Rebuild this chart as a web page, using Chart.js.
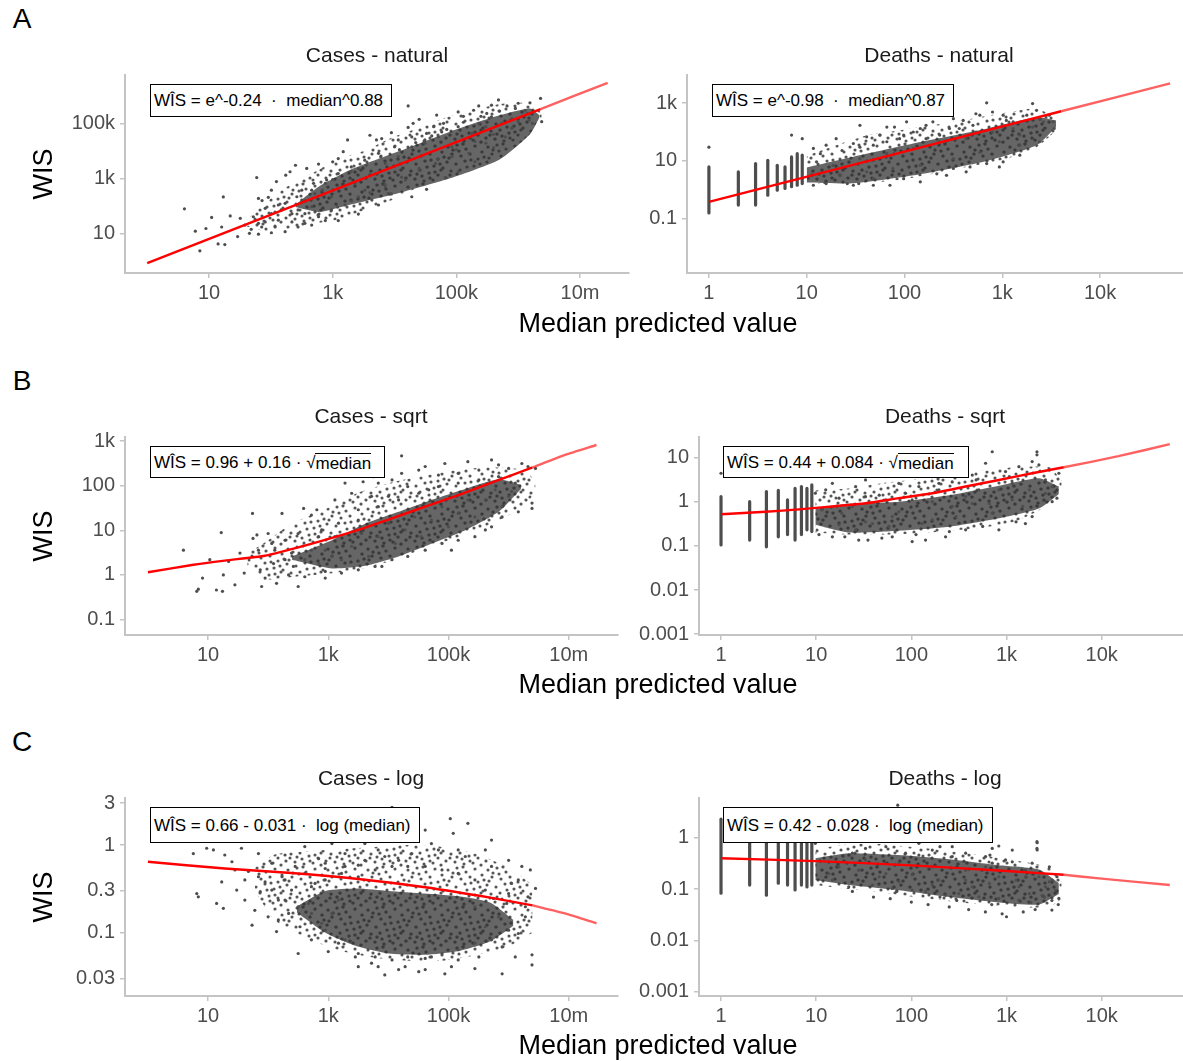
<!DOCTYPE html>
<html>
<head>
<meta charset="utf-8">
<script src="https://cdn.jsdelivr.net/npm/chart.js"></script>
<style>
  html, body { margin: 0; padding: 0; background: #fff; }
  body { width: 1183px; height: 1061px; position: relative; overflow: hidden;
         font-family: "Liberation Sans", Arial, Helvetica, sans-serif; }
  .txt { position: absolute; transform: translate(-50%, -50%); white-space: nowrap; line-height: 1; color: #000; z-index: 2; }
  .tag { font-size: 28px; }
  .ttl { font-size: 21px; color: #1a1a1a; }
  .xlab { font-size: 27px; }
  .ylab { font-size: 27px; transform: translate(-50%, -50%) rotate(-90deg); }
  .box { position: absolute; z-index: 3; background: #fff; border: 1px solid #000; box-sizing: border-box;
         font-size: 17px; line-height: 1; display: flex; align-items: center; padding-left: 3px; white-space: nowrap; }
  .rt { border-top: 1px solid #000; padding-top: 1px; }
</style>
</head>
<body>

<div class="txt tag" style="left:22px;top:19px">A</div>
<div class="txt tag" style="left:22px;top:381px">B</div>
<div class="txt tag" style="left:22px;top:742px">C</div>

<div class="txt ttl" style="left:377px;top:54px">Cases - natural</div>
<div class="txt ttl" style="left:939px;top:54px">Deaths - natural</div>
<div class="txt ttl" style="left:371px;top:415px">Cases - sqrt</div>
<div class="txt ttl" style="left:945px;top:415px">Deaths - sqrt</div>
<div class="txt ttl" style="left:371px;top:777px">Cases - log</div>
<div class="txt ttl" style="left:945px;top:777px">Deaths - log</div>

<div class="txt ylab" style="left:43px;top:174px">WIS</div>
<div class="txt ylab" style="left:43px;top:536px">WIS</div>
<div class="txt ylab" style="left:43px;top:897px">WIS</div>

<div class="txt xlab" style="left:658px;top:323px">Median predicted value</div>
<div class="txt xlab" style="left:658px;top:684px">Median predicted value</div>
<div class="txt xlab" style="left:658px;top:1045px">Median predicted value</div>

<div class="box" style="left:150px;top:84px;width:242px;height:33px">WÎS = e^-0.24 &nbsp;·&nbsp; median^0.88</div>
<div class="box" style="left:712px;top:84px;width:242px;height:33px">WÎS = e^-0.98 &nbsp;·&nbsp; median^0.87</div>
<div class="box" style="left:150px;top:446px;width:235px;height:32px">WÎS = 0.96 + 0.16 ·&nbsp;√<span class="rt">median</span></div>
<div class="box" style="left:723px;top:446px;width:246px;height:32px">WÎS = 0.44 + 0.084 ·&nbsp;√<span class="rt">median</span></div>
<div class="box" style="left:150px;top:807px;width:270px;height:36px">WÎS = 0.66 - 0.031 · &nbsp;log (median)</div>
<div class="box" style="left:723px;top:807px;width:270px;height:36px">WÎS = 0.42 - 0.028 · &nbsp;log (median)</div>

<script>
// tick values / labels
const casesXTicks = [10, 1e3, 1e5, 1e7];
const casesXLabels = ['10', '1k', '100k', '10m'];
const deathsXTicks = [1, 10, 100, 1e3, 1e4];
const deathsXLabels = ['1', '10', '100', '1k', '10k'];

// ---------- Cases - natural
const casesNatYTicks = [10, 1e3, 1e5];
const casesNatYLabels = ['10', '1k', '100k'];
// outer envelope of the point cloud and its dense core
const casesNatCloudX  = [40, 80, 170, 457, 1230, 3300, 8900, 2.5e4, 6.6e4, 1.8e5, 4.8e5, 1.3e6, 2.4e6];
const casesNatCloudHi = [30, 120, 450, 1500, 5000, 1e4, 3e4, 7e4, 1.6e5, 3e5, 5e5, 5.5e5, 2.5e5];
const casesNatCloudLo = [18, 12, 14, 22, 32, 70, 160, 500, 1600, 5000, 2e4, 7e4, 1.5e5];
const casesNatCoreX  = [250, 600, 1900, 1.23e4, 7.9e4, 5.1e5, 1.55e6, 2.2e6];
const casesNatCoreHi = [110, 500, 2000, 1e4, 5e4, 2e5, 3.5e5, 2e5];
const casesNatCoreLo = [90, 60, 110, 300, 1000, 5000, 4e4, 1.6e5];
const casesNatFit    = [[1, 0.83], [2.3e6, 3.3e5]];
const casesNatFitExt = [[2.3e6, 3.3e5], [2.8e7, 3.0e6]];
const casesNatPts = [[4,78],[6,12],[7.1,2.3],[8.9,15],[11,38],[14,4.1],[16,17],[17,210],[18,3.9],[22,43],[29,7.6],[32,35],[38,20],[45,10],[52,40],[59,1070],[63,186],[72,155],[81,81],[91,204],[102,370],[123,760],[132,107],[174,1300],[204,1740],[250,3000],[263,214],[316,162],[355,23],[380,2290],[490,660],[590,3300],[680,370],[800,870],[1000,4000],[1230,5250],[1480,9300],[1740,2.5e4],[2600,2300],[4000,3.7e4],[5100,2.5e4],[6200,2.8e4],[7900,280],[8900,4.6e4],[1.15e4,2.5e4],[1.66e4,4.3e5],[1.66e4,7.1e4],[2e4,1e5],[2.5e4,1.4e5],[3.3e4,4.3e4],[4.3e4,7.6e4],[4.8e4,2e5],[6.2e4,1e5],[1.07e5,2.6e5],[1.3e5,1.8e5],[1.9e5,3e5],[2.3e5,4.3e5],[3.1e5,2.3e5],[3.7e5,4.6e5],[4.8e5,7.1e5],[6.6e5,4.3e5],[1e6,5.4e5],[1.4e6,2.3e5],[1.55e6,5.6e5],[2.3e6,8.1e5],[2.4e6,1.15e5],[1.7e6,1e5],[7.9e5,6.6e4],[4e5,1.3e4],[2e5,4000],[1.07e5,1740],[6.6e4,1070],[3.3e4,400],[1.9e4,214],[8900,270],[5500,107],[2600,50],[1230,29],[760,29],[457,20],[275,17],[170,11.5],[102,10.5],[63,9.3],[48,14],[81,26],[132,30],[219,52],[102,52],[170,123],[275,71],[457,93],[513,280],[955,214],[1400,490],[2300,660],[3300,370],[4900,1500],[7100,3500],[1.15e4,6200],[1.9e4,1.4e4],[3.1e4,2.5e4],[5.1e4,3.2e4],[8.5e4,1.4e4],[1.8e5,4.3e4],[3e5,7.6e4],[5.4e5,1e5],[1e6,1.15e5],[1.3e6,3e5],[63,23],[71,17],[117,17],[148,71],[219,26],[355,52],[590,40],[955,71],[1580,107],[2600,214],[4300,162],[7100,490],[1.5e4,870],[2.5e4,2000],[4.6e4,3500],[8.5e4,6200],[1.6e5,8100],[3e5,1.9e4],[6.2e5,3.2e4],[7.9e5,1.5e5],[3.7e5,1.74e5],[2.3e5,1e5],[1.07e5,7.6e4],[5.8e4,4.9e4],[3.1e4,1.9e4],[1.9e4,3.2e4],[1e4,1.4e4],[5500,8100],[3300,4600],[2000,2600],[1230,1500],[760,660],[457,370],[316,370],[1000,900],[2000,1800],[3500,3000],[6000,6000],[1.2e4,1.1e4],[2.2e4,2e4],[4e4,3.5e4],[7e4,6e4],[1.3e5,1.1e5],[2.5e5,1.8e5],[5e5,2.8e5],[9e5,3.5e5],[600,50],[1200,90],[2000,150],[4000,300],[7000,600],[1.3e4,1100],[2.5e4,2300],[5e4,5000],[1e5,1.1e4],[2e5,2.2e4],[4e5,4e4],[8e5,7e4],[1.5e6,1.3e5]];

// ---------- Deaths - natural
const deathsNatYTicks = [0.1, 10, 1e3];
const deathsNatYLabels = ['0.1', '10', '1k'];
const deathsNatColX  = [1, 2, 3, 4, 5, 6, 7, 8, 9];
const deathsNatColLo = [0.16, 0.3, 0.3, 0.66, 0.98, 1.12, 1.29, 1.45, 1.66];
const deathsNatColHi = [6.2, 4.2, 8.1, 10.5, 7.1, 6.2, 13.8, 17.8, 15.8];
const deathsNatCloudX  = [10, 20, 44, 98, 214, 468, 1020, 2240, 3550];
const deathsNatCloudHi = [15, 35, 80, 120, 180, 280, 450, 650, 300];
const deathsNatCloudLo = [1.6, 1.6, 1.8, 2.3, 3.8, 6.5, 11, 30, 110];
const deathsNatCoreX  = [10, 30, 145, 690, 2240, 3550];
const deathsNatCoreHi = [6, 14, 45, 130, 320, 250];
const deathsNatCoreLo = [1.8, 1.7, 3.5, 10, 35, 150];
const deathsNatFit    = [[1, 0.385], [4000, 520]];
const deathsNatFitExt = [[4000, 520], [5.2e4, 4800]];
const deathsNatPts = [[1,30],[7,78],[9,59],[11.7,27],[13.8,17.8],[12.6,9.3],[15.8,35],[20,59],[23,23],[30,40],[30,1.45],[34,1.66],[35,170],[41,68],[48,35],[48,1.45],[66,148],[66,46],[71,1.45],[79,148],[98,78],[105,224],[123,100],[145,132],[145,1.9],[166,170],[195,224],[229,78],[269,3.2],[316,288],[363,132],[427,4.2],[398,251],[501,170],[589,380],[692,1020],[794,490],[933,6.2],[1100,251],[1290,224],[1510,35],[1780,380],[2040,955],[2240,562],[2630,224],[3020,380],[3310,224],[3390,132],[2400,46],[1510,15.8],[1020,9.3],[692,8.1],[468,6.2],[316,5.5],[214,3.6],[98,2.45],[48,2.45],[26,1.66],[15.8,1.66],[11.7,1.45],[18.6,7.1],[35,12],[66,17.8],[123,27],[229,46],[427,59],[794,100],[1290,132],[2040,148],[145,7.1],[316,12],[589,20],[76,5.5],[41,4.2],[22,3.2],[35,30],[56,78],[89,59],[166,59],[288,132],[537,100],[933,46],[1510,78],[2400,288],[1020,380],[537,427]];

// ---------- Cases - sqrt
const casesSqrtYTicks = [0.1, 1, 10, 100, 1e3];
const casesSqrtYLabels = ['0.1', '1', '10', '100', '1k'];
const casesSqrtCloudX  = [45, 100, 245, 891, 3160, 1.15e4, 4.1e4, 1.45e5, 5.2e5, 1.9e6, 2.8e6];
const casesSqrtCloudHi = [3, 6, 14, 30, 70, 120, 170, 230, 260, 220, 120];
const casesSqrtCloudLo = [1.6, 0.8, 0.9, 1.05, 1.3, 2.1, 4, 7, 14, 35, 80];
const casesSqrtCoreX  = [250, 1150, 4100, 1.48e4, 5.2e4, 1.9e5, 6.8e5, 1.6e6];
const casesSqrtCoreHi = [2.6, 6, 14, 26, 48, 85, 140, 105];
const casesSqrtCoreLo = [2.2, 1.4, 1.6, 2.6, 5, 10, 26, 85];
const casesSqrtFit    = [[1,1.15],[5.4,1.67],[19,2.1],[89,2.7],[246,3.8],[890,6.1],[3160,10.2],[1.14e4,18.6],[4.1e4,34],[1.47e5,62],[5.2e5,118],[2.5e6,257]];
const casesSqrtFitExt = [[2.5e6,257],[8.7e6,490],[2.9e7,820]];
const casesSqrtPts = [[3.9,3.6],[6.5,0.43],[6.9,0.48],[8.1,0.85],[10.7,2.2],[13.8,0.46],[16.6,8.9],[17.4,0.43],[18,1.0],[22,2.0],[28,0.6],[34,3.1],[40,1.1],[55,24],[56,6.6],[65,7.9],[69,3.6],[74,1.3],[78,0.55],[89,0.85],[100,8.5],[115,5.1],[123,1.8],[138,0.65],[170,24],[191,6.0],[219,1.0],[245,3.1],[263,1.55],[316,0.55],[389,31],[407,0.91],[525,22],[646,29],[776,10.2],[891,0.85],[1150,2.6],[1290,48],[1900,115],[2450,68],[3160,17],[3800,123],[5250,58],[5600,160],[6800,115],[7800,1.55],[1e4,58],[1.15e4,135],[1.66e4,470],[1.66e4,190],[2.1e4,96],[3.2e4,225],[4.1e4,270],[4.7e4,81],[6.8e4,174],[8.7e4,316],[1.12e5,3.6],[1.45e5,190],[2.1e5,347],[3.2e5,225],[4.1e5,10.2],[5.2e5,380],[6.8e5,295],[1e6,245],[1.29e6,115],[1.66e6,316],[2.1e6,270],[2.45e6,41],[2.45e6,31],[2.8e6,245],[1.45e6,26],[1.12e6,74],[7.8e5,20],[5.2e5,12],[2.75e5,7.2],[1.45e5,6.0],[7.8e4,5.1],[4.1e4,3.6],[2.1e4,2.6],[1.15e4,2.2],[6000,1.55],[3160,1.3],[1660,1.1],[891,1.2],[692,1.8],[407,2.2],[191,2.2],[129,3.6],[316,8.5],[692,7.2],[1480,14.5],[3160,29],[6800,34],[1.48e4,48],[3.2e4,68],[6.8e4,96],[1.45e5,115],[3.2e5,135],[6.8e5,160],[891,3.6],[2450,4.4],[6800,7.2],[1.9e4,10.2],[5.2e4,17],[1.45e5,24],[4.1e5,48],[1e6,58],[1660,2.2],[4700,2.6],[1.3e4,5.1],[3.5e4,7.2],[1e5,12],[2.75e5,20],[7.8e5,34],[525,3.6],[1290,7.2],[3600,8.5],[1e4,14.5],[2.75e4,20],[7.8e4,34],[2.1e5,48],[6e5,81]];

// ---------- Deaths - sqrt
const deathsSqrtYTicks = [0.001, 0.01, 0.1, 1, 10];
const deathsSqrtYLabels = ['0.001', '0.01', '0.1', '1', '10'];
const deathsSqrtColX  = [1, 2, 3, 4, 5, 6, 7, 8, 9];
const deathsSqrtColLo = [0.105, 0.135, 0.095, 0.16, 0.18, 0.135, 0.18, 0.23, 0.21];
const deathsSqrtColHi = [1.3, 1.0, 1.7, 1.8, 1.1, 2.0, 2.2, 2.0, 2.4];
const deathsSqrtCloudX  = [9.8, 22, 49, 112, 251, 562, 1260, 2820, 3800];
const deathsSqrtCloudHi = [1.8, 2.0, 2.6, 3.2, 4.0, 5.0, 6.0, 6.0, 3.0];
const deathsSqrtCloudLo = [0.2, 0.18, 0.18, 0.19, 0.22, 0.26, 0.36, 0.85, 1.4];
const deathsSqrtCoreX  = [9.8, 22, 74, 250, 830, 2190, 3550];
const deathsSqrtCoreHi = [0.7, 0.9, 1.0, 1.4, 2.3, 3.4, 2.2];
const deathsSqrtCoreLo = [0.3, 0.2, 0.22, 0.27, 0.42, 0.7, 1.5];
const deathsSqrtFit    = [[1,0.52],[2.95,0.59],[6.6,0.67],[14.8,0.78],[33,0.92],[74,1.2],[166,1.55],[372,2.2],[832,3.1],[1860,4.4],[4000,6.0]];
const deathsSqrtFitExt = [[4000,6.0],[1.5e4,10.7],[5.2e4,20]];
const deathsSqrtPts = [[1,4.4],[9.8,1.55],[12.6,1.85],[14.8,2.6],[17.4,1.2],[20,0.16],[26,2.2],[33,3.1],[35,0.135],[46,1.4],[54,3.7],[63,0.16],[74,2.6],[87,4.8],[102,0.125],[120,2.2],[141,0.135],[166,3.7],[195,1.85],[229,0.16],[269,2.8],[316,6.2],[372,0.23],[437,4.0],[513,1.85],[603,7.4],[708,13.5],[832,0.23],[977,4.8],[1150,2.6],[1350,6.2],[1580,0.32],[1860,8.1],[2090,13.5],[2090,11.5],[2190,6.8],[2570,3.1],[3020,2.2],[3390,1.2],[3550,4.4],[3020,1.0],[1860,0.46],[1260,0.35],[562,0.275],[251,0.21],[112,0.18],[49,0.15],[28,0.135],[14.8,0.16],[10.7,0.18],[11.5,0.65],[18.6,0.55],[33,1.3],[39,0.32],[63,0.46],[102,1.1],[166,0.39],[269,0.78],[437,0.91],[708,0.55],[1150,1.1],[1740,1.85],[2570,1.55],[2820,5.2],[832,1.85],[372,1.3],[166,1.0],[74,0.59],[33,0.35],[17.4,0.30],[24,0.78],[54,1.1],[87,1.55],[195,2.6],[479,3.1],[1070,3.7],[1480,0.78],[661,0.91],[295,0.46],[129,0.32],[58,0.275],[26,0.23]];

// ---------- Cases - log
const casesLogYTicks = [0.03, 0.1, 0.3, 1, 3];
const casesLogYLabels = ['0.03', '0.1', '0.3', '1', '3'];
const casesLogCloudX  = [60, 129, 468, 1660, 6030, 2.1e4, 7.8e4, 2.75e5, 1e6, 2.5e6];
const casesLogCloudHi = [0.55, 0.78, 0.85, 0.9, 0.95, 1.0, 0.95, 0.8, 0.55, 0.35];
const casesLogCloudLo = [0.3, 0.14, 0.085, 0.062, 0.052, 0.048, 0.048, 0.055, 0.07, 0.1];
const casesLogCoreX  = [300, 900, 3000, 1e4, 4e4, 1.5e5, 5e5, 1.2e6];
const casesLogCoreHi = [0.2, 0.3, 0.32, 0.3, 0.28, 0.26, 0.22, 0.14];
const casesLogCoreLo = [0.17, 0.1, 0.07, 0.058, 0.056, 0.062, 0.08, 0.12];
const casesLogFit    = [[1,0.645],[19,0.54],[245,0.48],[3160,0.41],[4.1e4,0.33],[5.2e5,0.25],[2.5e6,0.205]];
const casesLogFitExt = [[2.5e6,0.205],[8.7e6,0.166],[2.9e7,0.128]];
const casesLogPts = [[5.7,0.80],[6.5,0.28],[6.9,0.257],[9.5,0.92],[12.3,0.88],[13.9,0.216],[16.9,0.38],[18,0.19],[19,0.77],[25,0.645],[30,0.307],[36,0.92],[41,0.236],[47,0.50],[54,0.122],[60,0.18],[69,0.80],[74,0.294],[89,0.38],[100,0.152],[115,0.62],[138,0.103],[148,0.236],[170,0.435],[191,0.77],[219,0.166],[245,0.307],[282,0.57],[316,0.058],[339,0.117],[407,0.96],[468,0.216],[525,0.083],[603,0.365],[692,0.70],[776,0.128],[891,0.54],[1000,0.061],[1150,1.04],[1480,0.236],[1900,0.80],[2450,1.19],[2820,0.053],[3160,0.59],[4070,1.04],[5250,0.045],[6760,0.88],[8710,0.033],[1e4,1.36],[1.15e4,2.7],[1.48e4,0.67],[1.9e4,0.041],[2.1e4,1.14],[2.45e4,1.62],[3.2e4,0.036],[4.1e4,1.48],[5.2e4,0.053],[6.8e4,0.88],[8.7e4,0.034],[1.07e5,2.0],[1.2e5,1.36],[1.45e5,0.049],[1.9e5,0.74],[2.1e5,1.77],[2.75e5,0.039],[4.1e5,0.88],[5.2e5,1.14],[5.6e5,0.246],[7.8e5,0.034],[9.3e5,0.216],[1.12e6,0.365],[1.29e6,0.053],[1.66e6,0.57],[2.3e6,0.52],[2.45e6,0.056],[2.45e6,0.043],[2.8e6,0.32],[1e6,0.67],[5.2e5,0.57],[2.75e5,0.40],[1.45e5,0.475],[7.8e4,0.52],[4.1e4,0.57],[2.1e4,0.57],[1.15e4,0.57],[6030,0.52],[3160,0.435],[1660,0.475],[891,0.40],[525,0.335],[1150,0.166],[1900,0.083],[3160,0.058],[6030,0.053],[1.15e4,0.049],[2.1e4,0.053],[4.1e4,0.051],[7.8e4,0.058],[1.45e5,0.064],[2.75e5,0.076],[5.2e5,0.083],[1e6,0.107],[1.9e6,0.152],[1.9e6,0.198],[1.45e6,0.40],[2.1e6,0.257],[6.8e5,0.152],[4.1e5,0.117],[525,0.166],[891,0.107],[316,0.198],[191,0.236],[115,0.307],[69,0.435],[41,0.40],[28,0.52],[148,0.14],[1480,0.076],[1.45e6,0.098],[7.8e5,0.069],[3.2e5,0.053],[1.12e5,0.041],[4.1e4,0.038],[1.48e4,0.038],[6760,0.041],[3160,0.041],[2.75e5,0.198],[4.1e5,0.307],[1e6,0.28],[1.45e5,0.88],[5.2e4,1.04],[2.45e4,0.80],[8710,0.74],[4070,0.67],[1900,0.57],[891,0.62],[407,0.475],[191,0.40]];

// ---------- Deaths - log
const deathsLogYTicks = [0.001, 0.01, 0.1, 1];
const deathsLogYLabels = ['0.001', '0.01', '0.1', '1'];
const deathsLogColX  = [1, 2, 3, 4, 5, 6, 7, 8, 9];
const deathsLogColLo = [0.083, 0.12, 0.076, 0.13, 0.12, 0.096, 0.12, 0.11, 0.12];
const deathsLogColHi = [2.3, 0.95, 0.95, 0.95, 0.95, 0.95, 0.95, 0.95, 0.95];
const deathsLogCloudX  = [9.8, 22, 49, 112, 251, 562, 1260, 2820, 3800];
const deathsLogCloudHi = [0.6, 0.75, 0.75, 0.65, 0.55, 0.45, 0.36, 0.26, 0.14];
const deathsLogCloudLo = [0.12, 0.1, 0.085, 0.07, 0.058, 0.05, 0.045, 0.045, 0.065];
const deathsLogCoreX  = [9.8, 22, 74, 251, 832, 2190, 3550];
const deathsLogCoreHi = [0.4, 0.5, 0.46, 0.38, 0.29, 0.24, 0.13];
const deathsLogCoreLo = [0.15, 0.12, 0.095, 0.07, 0.055, 0.05, 0.08];
const deathsLogFit    = [[1,0.40],[10,0.35],[100,0.29],[1000,0.225],[4000,0.19]];
const deathsLogFitExt = [[4000,0.19],[1e4,0.16],[5.2e4,0.12]];
const deathsLogPts = [[9.8,0.78],[12.6,0.90],[14.8,0.15],[17.4,0.84],[22,0.111],[28,1.05],[33,0.62],[39,0.12],[46,1.22],[54,0.67],[63,0.103],[74,0.90],[87,0.50],[102,0.096],[120,0.78],[141,0.089],[166,0.575],[195,1.13],[229,0.076],[269,0.67],[316,0.082],[372,0.50],[437,0.90],[513,0.071],[603,0.43],[708,0.62],[832,0.066],[977,0.37],[1150,0.34],[1350,0.061],[1580,0.234],[1860,0.32],[2090,0.84],[2090,0.62],[2370,0.076],[2820,0.27],[3020,0.15],[3270,0.096],[3550,0.066],[3390,0.174],[2570,0.111],[1740,0.082],[1260,0.15],[661,0.129],[372,0.15],[195,0.15],[102,0.19],[54,0.20],[28,0.234],[17.4,0.27],[13.6,0.20],[33,0.37],[74,0.32],[166,0.27],[372,0.234],[832,0.174],[1350,0.111],[2820,0.139],[269,0.43],[120,0.46],[603,0.27],[1580,0.174],[437,0.111],[166,0.12],[74,0.139],[1150,0.575],[708,0.32],[2190,0.174],[46,0.174],[24,0.50],[72,4.3],[830,0.69],[200,0.67],[2100,0.8],[2100,0.58],[670,0.46],[24,0.09],[40,0.07],[60,0.065],[100,0.056],[150,0.05],[250,0.045],[400,0.04],[600,0.036],[900,0.033],[1000,0.029],[1500,0.036],[2000,0.04],[3000,0.039],[3500,0.05],[3000,0.06],[2500,0.07],[1800,0.055],[700,0.05],[300,0.06],[200,0.07],[70,0.09]];

// ---------- layout of the six panels (plot area in page pixels)
const panels = [
  { area: [125, 75, 629, 273], x: [0.437, 6.2e7], y: [0.36, 5.75e6], xt: casesXTicks, xl: casesXLabels, yt: casesNatYTicks, yl: casesNatYLabels,
    cloud: [casesNatCloudX, casesNatCloudHi, casesNatCloudLo], core: [casesNatCoreX, casesNatCoreHi, casesNatCoreLo],
    fit: casesNatFit, ext: casesNatFitExt, pts: casesNatPts },
  { area: [687, 75, 1191, 273], x: [0.597, 8.5e4], y: [0.00135, 9300], xt: deathsXTicks, xl: deathsXLabels, yt: deathsNatYTicks, yl: deathsNatYLabels,
    cloud: [deathsNatCloudX, deathsNatCloudHi, deathsNatCloudLo], core: [deathsNatCoreX, deathsNatCoreHi, deathsNatCoreLo],
    fit: deathsNatFit, ext: deathsNatFitExt, pts: deathsNatPts, cols: [deathsNatColX, deathsNatColLo, deathsNatColHi] },
  { area: [125, 437, 618, 635], x: [0.416, 6.6e7], y: [0.045, 1240], xt: casesXTicks, xl: casesXLabels, yt: casesSqrtYTicks, yl: casesSqrtYLabels,
    cloud: [casesSqrtCloudX, casesSqrtCloudHi, casesSqrtCloudLo], core: [casesSqrtCoreX, casesSqrtCoreHi, casesSqrtCoreLo],
    fit: casesSqrtFit, ext: casesSqrtFitExt, pts: casesSqrtPts },
  { area: [699, 437, 1192, 635], x: [0.587, 8.9e4], y: [0.00096, 29.1], xt: deathsXTicks, xl: deathsXLabels, yt: deathsSqrtYTicks, yl: deathsSqrtYLabels,
    cloud: [deathsSqrtCloudX, deathsSqrtCloudHi, deathsSqrtCloudLo], core: [deathsSqrtCoreX, deathsSqrtCoreHi, deathsSqrtCoreLo],
    fit: deathsSqrtFit, ext: deathsSqrtFitExt, pts: deathsSqrtPts, cols: [deathsSqrtColX, deathsSqrtColLo, deathsSqrtColHi] },
  { area: [125, 798, 618, 996], x: [0.416, 6.6e7], y: [0.019, 3.44], xt: casesXTicks, xl: casesXLabels, yt: casesLogYTicks, yl: casesLogYLabels,
    cloud: [casesLogCloudX, casesLogCloudHi, casesLogCloudLo], core: [casesLogCoreX, casesLogCoreHi, casesLogCoreLo],
    fit: casesLogFit, ext: casesLogFitExt, pts: casesLogPts },
  { area: [699, 798, 1192, 996], x: [0.587, 8.9e4], y: [0.00083, 5.94], xt: deathsXTicks, xl: deathsXLabels, yt: deathsLogYTicks, yl: deathsLogYLabels,
    cloud: [deathsLogCloudX, deathsLogCloudHi, deathsLogCloudLo], core: [deathsLogCoreX, deathsLogCoreHi, deathsLogCoreLo],
    fit: deathsLogFit, ext: deathsLogFitExt, pts: deathsLogPts, cols: [deathsLogColX, deathsLogColLo, deathsLogColHi] },
];

const FONT = '"Liberation Sans", Arial, Helvetica, sans-serif';
const GREY = '#4d4d4d';
const AXIS = '#c4c4c4';
const Y_W = 80, X_H = 42, PAD_T = 12, PAD_R = 16;

// speckle texture used to fill the cloud areas (dot positions inside a 40px tile)
const SPECKS = [[3,4],[12,2],[21,6],[30,3],[37,9],[7,11],[16,13],[25,11],[33,16],[2,19],[11,21],[20,18],
                [29,23],[38,25],[6,28],[15,27],[24,30],[33,32],[1,35],[10,36],[19,38],[28,37],[36,39],[17,33],[8,7],[26,17],[4,15],
                [14,8],[35,21],[22,24],[5,32],[30,29],[39,14],[18,1],[12,31],[25,35],[36,27]];
function speckle(bg, dot, r) {
  const c = document.createElement('canvas');
  c.width = 40; c.height = 40;
  const g = c.getContext('2d');
  if (bg) { g.fillStyle = bg; g.fillRect(0, 0, 40, 40); }
  g.fillStyle = dot;
  SPECKS.forEach(([x, y]) => {
    for (const dx of [-40, 0, 40]) for (const dy of [-40, 0, 40]) {
      g.beginPath(); g.arc(x + dx, y + dy, r, 0, Math.PI * 2); g.fill();
    }
  });
  return g.createPattern(c, 'repeat');
}
const CLOUD_FILL = speckle(null, 'rgba(77,77,77,0.95)', 1.55);
const CORE_FILL = speckle('rgba(77,77,77,0.86)', '#3a3a3a', 1.6);

const xy = a => a.map(d => ({ x: d[0], y: d[1] }));
const band = (xs, ys) => xs.map((x, i) => ({ x, y: ys[i] }));

function datasets(p) {
  const ds = [];
  ds.push({ data: xy(p.fit), borderColor: '#ff0000', borderWidth: 2.4, pointRadius: 0, tension: 0.2, fill: false, order: 0 });
  ds.push({ data: xy(p.ext), borderColor: 'rgba(255,0,0,0.62)', borderWidth: 2.4, pointRadius: 0, tension: 0.2, fill: false, order: 0 });
  ds.push({ data: xy(p.pts), showLine: false, pointRadius: 1.6, pointBackgroundColor: GREY, pointBorderWidth: 0, order: 1 });
  if (p.cols) {
    const [cx, lo, hi] = p.cols;
    cx.forEach((c, i) => ds.push({
      data: [{ x: c, y: lo[i] }, { x: c, y: hi[i] }],
      borderColor: GREY, borderWidth: 3.2, borderCapStyle: 'round', pointRadius: 0, fill: false, order: 2
    }));
  }
  const hidden = { borderWidth: 0, borderColor: 'rgba(0,0,0,0)', pointRadius: 0, tension: 0.2 };
  ds.push({ ...hidden, data: band(p.core[0], p.core[1]), fill: '+1', backgroundColor: CORE_FILL, order: 3 });
  ds.push({ ...hidden, data: band(p.core[0], p.core[2]), fill: false, order: 3 });
  ds.push({ ...hidden, data: band(p.cloud[0], p.cloud[1]), fill: '+1', backgroundColor: CLOUD_FILL, order: 4 });
  ds.push({ ...hidden, data: band(p.cloud[0], p.cloud[2]), fill: false, order: 4 });
  return ds;
}

function axis(range, vals, labs, isX) {
  return {
    type: 'logarithmic', position: isX ? 'bottom' : 'left', min: range[0], max: range[1],
    border: { display: true, color: AXIS, width: 2 },
    grid: { display: true, drawOnChartArea: false, drawTicks: true, tickLength: 5, color: AXIS, lineWidth: 1.5 },
    ticks: { autoSkip: false, maxRotation: 0, padding: isX ? 3 : 5, color: '#4d4d4d',
             font: { family: FONT, size: 20 }, callback: (v, i) => labs[i] },
    afterBuildTicks: s => { s.ticks = vals.map(v => ({ value: v })); },
    afterFit: s => {
      if (isX) s.height = X_H; else s.width = Y_W;
      s.paddingLeft = 0; s.paddingRight = 0; s.paddingTop = 0; s.paddingBottom = 0;
    }
  };
}

panels.forEach(p => {
  const [l, t, r, b] = p.area;
  const w = Y_W + (r - l) + PAD_R, h = PAD_T + (b - t) + X_H;
  const cv = document.createElement('canvas');
  cv.width = w; cv.height = h;
  cv.style.cssText = `position:absolute;left:${l - Y_W}px;top:${t - PAD_T}px;width:${w}px;height:${h}px;z-index:1`;
  document.body.appendChild(cv);
  new Chart(cv, {
    type: 'line',
    data: { datasets: datasets(p) },
    options: {
      responsive: false, animation: false, devicePixelRatio: 1, events: [],
      layout: { padding: { top: PAD_T, right: PAD_R, left: 0, bottom: 0 } },
      plugins: { legend: { display: false }, tooltip: { enabled: false } },
      scales: { x: axis(p.x, p.xt, p.xl, true), y: axis(p.y, p.yt, p.yl, false) }
    }
  });
});
</script>
</body>
</html>
